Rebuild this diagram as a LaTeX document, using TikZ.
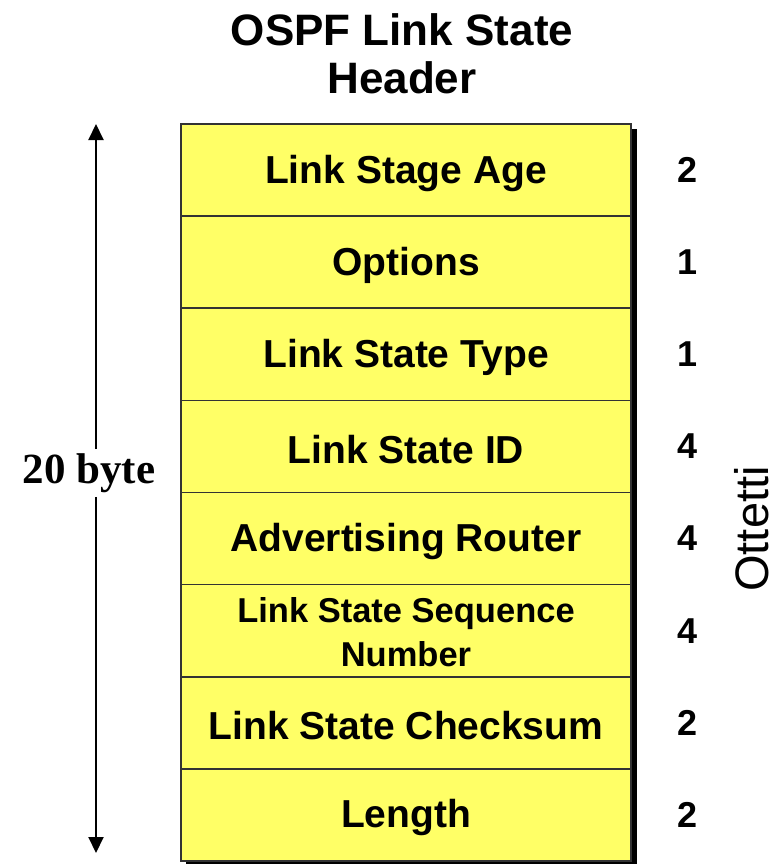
\documentclass[tikz,border=0pt]{standalone}
\usepackage{fontspec}
\setmainfont{Liberation Sans}
\newfontfamily\timesf{Liberation Serif}
\usetikzlibrary{arrows.meta}
\definecolor{fieldyellow}{HTML}{FFFF66}
\definecolor{edgegray}{HTML}{333333}
\tikzset{
  field/.style={draw=edgegray, line width=1.6pt, fill=fieldyellow, minimum width=450pt, minimum height=92.125pt, inner sep=0pt, outer sep=0pt, anchor=north west, font=\bfseries\fontsize{39}{44}\selectfont, align=center},
  fieldtext/.style={font=\bfseries\fontsize{39}{44}\selectfont, align=center},
  count/.style={font=\bfseries\fontsize{36}{40}\selectfont},
}
\begin{document}
\begin{tikzpicture}[x=1pt,y=-1pt]
\useasboundingbox (0,0) rectangle (778,864);
% title
\node[font=\bfseries\fontsize{44}{48}\selectfont, align=center] (title) at (402,54) {OSPF Link State\\Header};
% shadow
\fill[black] (186,129) rectangle (637,866);
% fields
\node[field] (f1) at (181,124) {};
\node[field] (f2) at (f1.south west) {};
\node[field] (f3) at (f2.south west) {};
\node[field] (f4) at (f3.south west) {};
\node[field] (f5) at (f4.south west) {};
\node[field] (f6) at (f5.south west) {};
\node[field] (f7) at (f6.south west) {};
\node[field] (f8) at (f7.south west) {};
\node[fieldtext] (t1) at ([yshift=-3pt]f1.center) {Link Stage Age};
\node[fieldtext] (t2) at ([yshift=-3pt]f2.center) {Options};
\node[fieldtext] (t3) at ([yshift=-3pt]f3.center) {Link State Type};
\node[fieldtext] (t4) at ([yshift=-3pt]f4.center) {Link State ID};
\node[fieldtext] (t5) at ([yshift=-3pt]f5.center) {Advertising Router};
\node[fieldtext, font=\bfseries\fontsize{34.5}{44}\selectfont] (t6) at ([yshift=-1pt]f6.center) {Link State Sequence\\Number};
\node[fieldtext] (t7) at ([yshift=-3pt]f7.center) {Link State Checksum};
\node[fieldtext] (t8) at ([yshift=-3pt]f8.center) {Length};
% counts
\coordinate (cx) at (688,0);
\node[count] (c1) at (cx |- f1) {2};
\node[count] (c2) at (cx |- f2) {1};
\node[count] (c3) at (cx |- f3) {1};
\node[count] (c4) at (cx |- f4) {4};
\node[count] (c5) at (cx |- f5) {4};
\node[count] (c6) at (cx |- f6) {4};
\node[count] (c7) at (cx |- f7) {2};
\node[count] (c8) at (cx |- f8) {2};
\node[rotate=90, font=\fontsize{47}{50}\selectfont] (ott) at (752,529) {Ottetti};
% size arrow
\coordinate (atop) at (96,124);
\coordinate (abot) at (96,853);
\node[fill=white, inner sep=4pt, font=\timesf\bfseries\fontsize{43}{48}\selectfont] (sz) at (89,473) {20 byte};
\draw[line width=2pt, -{Triangle[length=16pt,width=15pt]}] (sz.north -| atop) -- (atop);
\draw[line width=2pt, -{Triangle[length=16pt,width=15pt]}] (sz.south -| abot) -- (abot);
\end{tikzpicture}
\end{document}
